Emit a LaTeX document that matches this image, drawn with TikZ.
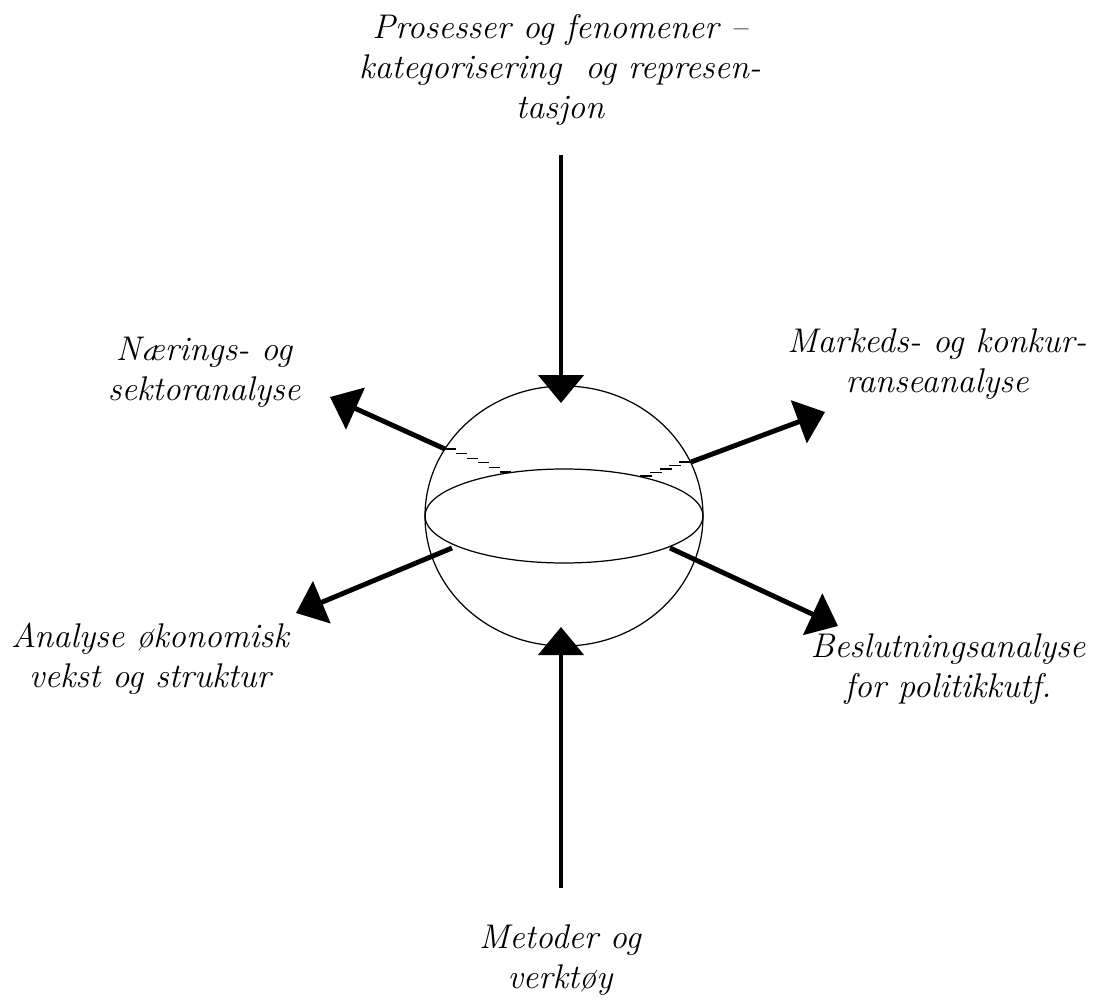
\documentclass[tikz,border=0pt]{standalone}
\usetikzlibrary{arrows.meta,calc}
\tikzset{
  pil/.style={line width=2.8pt, -{Triangle[length=0.56cm,width=0.9cm]}},
  tekst/.style={align=center, inner sep=0pt, font=\fontsize{19.5}{22.7}\selectfont\itshape},
  skjult/.style={line width=0.6pt}
}
\begin{document}
\begin{tikzpicture}[x=0.02cm, y=-0.02cm, line width=0.7pt]
	\useasboundingbox (0,0) rectangle (1095,1001);
	
	% Kule med ekvator
	\draw (564,516) ellipse [x radius=139, y radius=130];
	\draw (564,516) ellipse [x radius=139, y radius=47];
	
	% Tekster
	\node[tekst] (prosesser) at (560,70) {Prosesser og fenomener --\\kategorisering\ \ og represen-\\tasjon};
	\node[tekst] (naering) at (204,372) {Nærings- og\\sektoranalyse};
	\node[tekst] (marked) at (937,364) {Markeds- og konkur-\\ranseanalyse};
	\node[tekst] (vekst) at (150,659) {Analyse økonomisk\\vekst og struktur};
	\node[tekst] (beslutning) at (948,669) {Beslutningsanalyse\\for politikkutf.};
	\node[tekst] (metoder) at (560,960) {Metoder og\\verktøy};
	
	% Endepunkter for pilene
	\coordinate (topp) at (561,155);
	\coordinate (toppspiss) at (561,403);
	\coordinate (bunn) at (561,888);
	\coordinate (bunnspiss) at (561,627);
	\coordinate (vo) at (445,449);
	\coordinate (vospiss) at (330,397);
	\coordinate (ho) at (691,462);
	\coordinate (hospiss) at (825,412);
	\coordinate (vn) at (452,548);
	\coordinate (vnspiss) at (296,613);
	\coordinate (hn) at (670,548);
	\coordinate (hnspiss) at (838,626);
	
	% Piler inn
	\draw[pil] (topp) -- (toppspiss);
	\draw[pil] (bunn) -- (bunnspiss);
	
	% Piler ut
	\draw[pil] (vo) -- (vospiss);
	\draw[pil] (ho) -- (hospiss);
	\draw[pil] (vn) -- (vnspiss);
	\draw[pil] (hn) -- (hnspiss);
	
	% Skjulte deler bak kula
	\foreach \t in {0,0.2,...,1}
		\draw[skjult] ($(vo)!\t!(500,472)$) -- ++(11,0);
	\foreach \t in {0,0.25,...,1}
		\draw[skjult] ($(ho)!\t!(652,476)$) -- ++(-12,0);
\end{tikzpicture}
\end{document}
